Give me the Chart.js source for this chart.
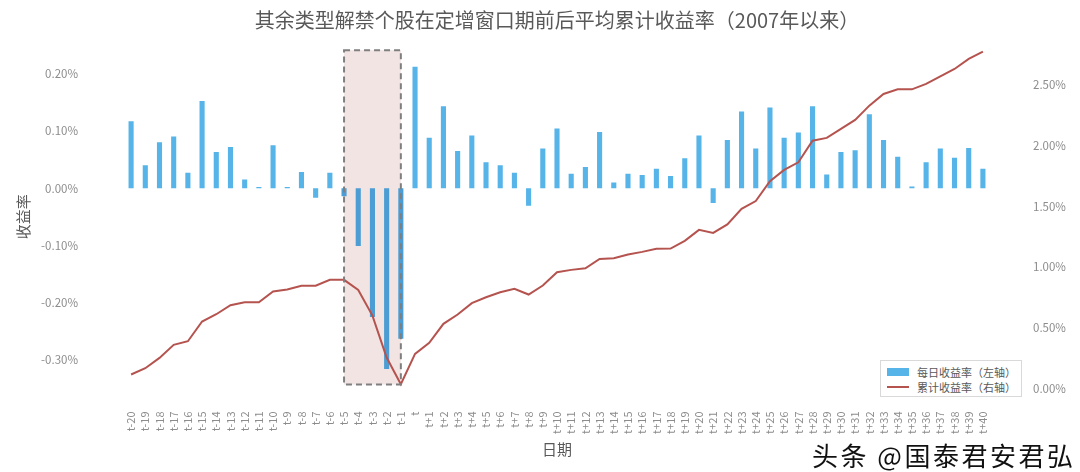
<!DOCTYPE html>
<html>
<head>
<meta charset="utf-8">
<script src="https://cdn.jsdelivr.net/npm/chart.js@4.4.1/dist/chart.umd.min.js"></script>
<style>
  html, body { margin: 0; padding: 0; background: #ffffff; }
  #wrap { position: relative; width: 1080px; height: 472px; overflow: hidden; }
  canvas { display: block; }
  .legend { position: absolute; left: 880px; top: 360px; width: 142px; height: 37px; border: 1px solid #d9d9d9; background: #fff; box-sizing: border-box;
    font-family: 'Noto Sans CJK SC', sans-serif; font-size: 11px; color: #595959; }
  .legend .row { position: absolute; left: 0; height: 14px; line-height: 14px; white-space: nowrap; }
  .legend .sw { position: absolute; left: 6px; width: 22px; }
  .legend .tx { position: absolute; left: 36px; top: 0; }
  .wm { position: absolute; left: 812px; top: 436px; font-family: 'Noto Sans CJK SC', sans-serif; font-size: 26px; letter-spacing: 2.5px; color: #111;
    text-shadow: 1px 1px 0 #fff, -1px -1px 0 #fff, 1px -1px 0 #fff, -1px 1px 0 #fff, 0 0 3px #fff; white-space: nowrap; }
</style>
</head>
<body>
<div id="wrap">
  <canvas id="c" width="1080" height="472"></canvas>
  <div class="legend">
    <div class="row" style="top:4px;"><span class="sw" style="top:3px;height:8px;background:#56b4e9;"></span><span class="tx">每日收益率（左轴）</span></div>
    <div class="row" style="top:19px;"><span class="sw" style="top:6px;height:2px;background:#b5534f;"></span><span class="tx">累计收益率（右轴）</span></div>
  </div>
  <div class="wm">头条 @国泰君安君弘</div>
</div>
<script>
const CATEGORIES = ['t-20','t-19','t-18','t-17','t-16','t-15','t-14','t-13','t-12','t-11','t-10','t-9','t-8','t-7','t-6','t-5','t-4','t-3','t-2','t-1','t',
  't+1','t+2','t+3','t+4','t+5','t+6','t+7','t+8','t+9','t+10','t+11','t+12','t+13','t+14','t+15','t+16','t+17','t+18','t+19','t+20',
  't+21','t+22','t+23','t+24','t+25','t+26','t+27','t+28','t+29','t+30','t+31','t+32','t+33','t+34','t+35','t+36','t+37','t+38','t+39','t+40'];

const DAILY_RETURN = [0.117,0.040,0.080,0.090,0.027,0.152,0.063,0.072,0.015,0.002,0.075,0.002,0.028,-0.017,0.027,-0.014,-0.101,-0.225,-0.316,-0.263,0.212,
  0.088,0.143,0.065,0.092,0.045,0.040,0.027,-0.031,0.069,0.104,0.025,0.037,0.098,0.010,0.025,0.023,0.034,0.021,0.052,0.092,
  -0.026,0.084,0.134,0.069,0.141,0.088,0.097,0.143,0.024,0.063,0.066,0.129,0.084,0.055,0.003,0.045,0.069,0.053,0.070,0.034];

const CUM_RETURN = [0.115,0.167,0.252,0.359,0.389,0.551,0.611,0.685,0.710,0.710,0.798,0.814,0.845,0.845,0.894,0.894,0.810,0.600,0.255,0.035,0.285,
  0.376,0.532,0.609,0.702,0.751,0.792,0.820,0.773,0.847,0.957,0.976,0.989,1.066,1.072,1.102,1.124,1.149,1.151,1.215,1.305,
  1.280,1.350,1.478,1.542,1.705,1.798,1.861,2.039,2.062,2.136,2.210,2.327,2.423,2.461,2.461,2.506,2.568,2.629,2.711,2.771];

const LEFT_TICKS = [-0.3, -0.2, -0.1, 0, 0.1, 0.2];
const RIGHT_TICKS = [0, 0.5, 1.0, 1.5, 2.0, 2.5];

const WINDOW_START = 't-5';
const WINDOW_END = 't-1';
const WINDOW_TOP = 0.241;
const WINDOW_BOTTOM = -0.343;

const FONT = "'Noto Sans CJK SC', 'Noto Sans', sans-serif";
const winStartIdx = CATEGORIES.indexOf(WINDOW_START);
const winEndIdx = CATEGORIES.indexOf(WINDOW_END);

function boxRect(chart) {
  const x = chart.scales.x, y = chart.scales.y;
  const x1 = x.getPixelForValue(winStartIdx), x2 = x.getPixelForValue(winEndIdx);
  const y1 = y.getPixelForValue(WINDOW_TOP), y2 = y.getPixelForValue(WINDOW_BOTTOM);
  return {x1, x2, y1, y2};
}

const windowBox = {
  id: 'windowBox',
  beforeDatasetsDraw(chart) {
    const {ctx} = chart; const r = boxRect(chart);
    ctx.save();
    ctx.fillStyle = '#f3e4e4';
    ctx.fillRect(r.x1, r.y1, r.x2 - r.x1, r.y2 - r.y1);
    ctx.restore();
  },
  afterDatasetsDraw(chart) {
    const {ctx} = chart; const r = boxRect(chart);
    ctx.save();
    ctx.strokeStyle = '#7f7f7f';
    ctx.lineWidth = 2;
    ctx.setLineDash([6, 4]);
    ctx.strokeRect(r.x1, r.y1, r.x2 - r.x1, r.y2 - r.y1);
    ctx.restore();
  }
};

function fixVertical(width) {
  return function (s) { s.width = width; s.paddingTop = 0; s.paddingBottom = 0; };
}

new Chart(document.getElementById('c'), {
  data: {
    labels: CATEGORIES,
    datasets: [
      {
        type: 'line', label: '累计收益率（右轴）', data: CUM_RETURN, yAxisID: 'y1',
        borderColor: '#b5534f', borderWidth: 2, pointRadius: 0, tension: 0, order: 0
      },
      {
        type: 'bar', label: '每日收益率（左轴）', data: DAILY_RETURN, yAxisID: 'y',
        backgroundColor: (c) => (c.dataIndex >= winStartIdx && c.dataIndex <= winEndIdx) ? '#4c9dd4' : '#56b4e9',
        barPercentage: 0.36, categoryPercentage: 1, order: 1
      }
    ]
  },
  options: {
    responsive: false, animation: false,
    layout: { padding: 0 },
    plugins: {
      legend: { display: false },
      tooltip: { enabled: false },
      title: {
        display: true, fullSize: false,
        text: '其余类型解禁个股在定增窗口期前后平均累计收益率（2007年以来）',
        color: '#595959', font: { family: FONT, size: 20, weight: 'normal', lineHeight: 1.2 },
        padding: { top: 8.5, bottom: 12.5 }
      }
    },
    scales: {
      x: {
        type: 'category', offset: true,
        grid: { display: false, drawTicks: false }, border: { display: false },
        ticks: { autoSkip: false, minRotation: 90, maxRotation: 90, padding: 23, color: '#8c8c8c', font: { family: FONT, size: 11 } },
        title: { display: true, text: '日期', color: '#595959', font: { family: FONT, size: 15 }, padding: { top: 0, bottom: 14 } },
        afterFit(s) { s.height = 83.5; s.paddingLeft = 0; s.paddingRight = 0; }
      },
      y: {
        type: 'linear', position: 'left', min: -0.35, max: 0.25,
        grid: { display: false, drawTicks: false }, border: { display: false },
        afterBuildTicks(s) { s.ticks = LEFT_TICKS.map(v => ({ value: v })); },
        ticks: { padding: 46, color: '#8c8c8c', font: { family: FONT, size: 11.5 }, callback: (v) => v.toFixed(2) + '%' },
        title: { display: true, text: '收益率', color: '#595959', font: { family: FONT, size: 15 }, padding: { top: 14, bottom: 0 } },
        afterFit: fixVertical(124)
      },
      y1: {
        type: 'linear', position: 'right', min: 0, max: 2.826,
        grid: { display: false, drawTicks: false }, border: { display: false },
        afterBuildTicks(s) { s.ticks = RIGHT_TICKS.map(v => ({ value: v })); },
        ticks: { padding: 43, color: '#8c8c8c', font: { family: FONT, size: 11.5 }, callback: (v) => v.toFixed(2) + '%' },
        afterFit: fixVertical(90)
      }
    }
  },
  plugins: [windowBox]
});
</script>
</body>
</html>
